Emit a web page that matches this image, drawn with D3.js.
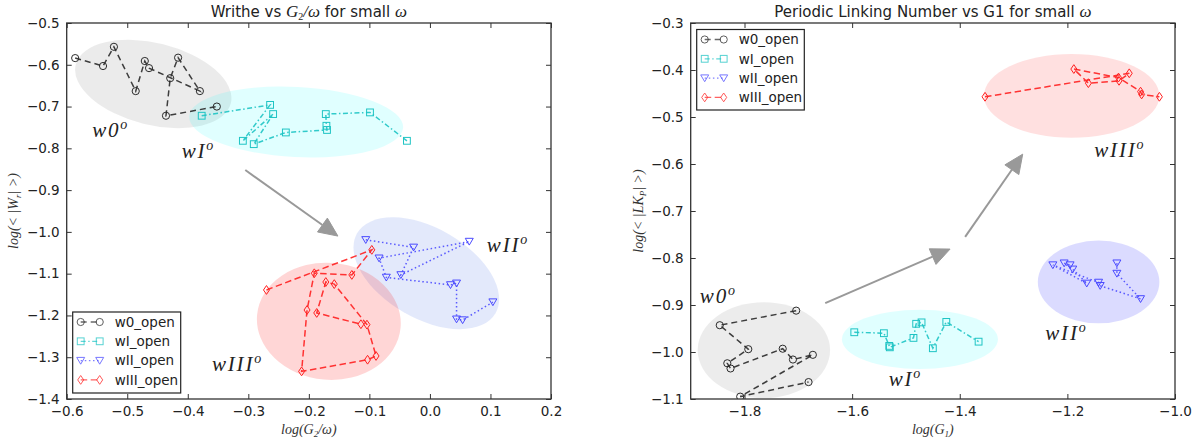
<!DOCTYPE html>
<html><head><meta charset="utf-8">
<script src="https://cdn.jsdelivr.net/npm/d3@7"></script>
<style>body{margin:0;background:#fff} svg{display:block}</style>
</head><body>
<svg id="chart" width="1198" height="444"></svg>
<script>
// ---------------- data ----------------
const seriesNames = ["w0_open", "wI_open", "wII_open", "wIII_open"];

const leftXTicks = [-0.6, -0.5, -0.4, -0.3, -0.2, -0.1, 0.0, 0.1, 0.2];
const leftYTicks = [-0.5, -0.6, -0.7, -0.8, -0.9, -1.0, -1.1, -1.2, -1.3, -1.4];
const rightXTicks = [-1.8, -1.6, -1.4, -1.2, -1.0];
const rightYTicks = [-0.3, -0.4, -0.5, -0.6, -0.7, -0.8, -0.9, -1.0, -1.1];

// Writhe panel (x = log(G2/w), y = log(<|Wr|>))
const leftW0 = [[-0.586,-0.584],[-0.540,-0.603],[-0.522,-0.557],[-0.486,-0.663],[-0.471,-0.591],[-0.464,-0.608],[-0.380,-0.663],[-0.416,-0.583],[-0.429,-0.632],[-0.436,-0.722],[-0.352,-0.700]];
const leftWI = [[-0.377,-0.722],[-0.264,-0.696],[-0.309,-0.782],[-0.259,-0.718],[-0.291,-0.790],[-0.238,-0.762],[-0.170,-0.756],[-0.171,-0.746],[-0.172,-0.718],[-0.099,-0.714],[-0.038,-0.782]];
const leftWII = [[-0.106,-1.019],[-0.027,-1.037],[-0.048,-1.103],[0.065,-1.023],[-0.084,-1.063],[-0.072,-1.109],[0.034,-1.127],[0.044,-1.123],[0.044,-1.209],[0.054,-1.211],[0.104,-1.168]];
const leftWIII = [[-0.270,-1.139],[-0.096,-1.043],[-0.129,-1.103],[-0.191,-1.099],[-0.203,-1.187],[-0.212,-1.334],[-0.103,-1.306],[-0.089,-1.297],[-0.104,-1.222],[-0.158,-1.125],[-0.172,-1.120],[-0.187,-1.194],[-0.114,-1.221]];

// Periodic linking panel (x = log(G1), y = log(<|LKp|>))
const rightW0 = [[-1.704,-0.912],[-1.846,-0.943],[-1.793,-0.994],[-1.832,-1.024],[-1.826,-1.035],[-1.729,-0.993],[-1.710,-1.016],[-1.673,-1.006],[-1.808,-1.095],[-1.681,-1.064]];
const rightWI = [[-1.596,-0.958],[-1.541,-0.960],[-1.531,-0.987],[-1.530,-0.990],[-1.486,-0.970],[-1.481,-0.940],[-1.471,-0.937],[-1.450,-0.992],[-1.425,-0.936],[-1.365,-0.978]];
const rightWII = [[-1.108,-0.811],[-1.108,-0.833],[-1.064,-0.887],[-1.139,-0.859],[-1.142,-0.852],[-1.227,-0.815],[-1.164,-0.854],[-1.190,-0.824],[-1.206,-0.811],[-1.195,-0.815]];
const rightWIII = [[-1.353,-0.457],[-1.085,-0.407],[-1.104,-0.423],[-1.161,-0.428],[-1.188,-0.398],[-1.105,-0.416],[-1.064,-0.446],[-1.062,-0.452],[-1.029,-0.457]];

// group highlight ellipses: [cx, cy, semi-axis (x units), semi-axis (y units), angle]
const leftGroups = [[-0.457,-0.646,0.132,0.098,14],[-0.221,-0.737,0.177,0.084,3],[-0.006,-1.099,0.132,0.108,30],[-0.167,-1.214,0.119,0.140,5]];
const rightGroups = [[-1.764,-0.996,0.123,0.102,0],[-1.474,-0.973,0.145,0.063,0],[-1.142,-0.851,0.113,0.088,0],[-1.192,-0.455,0.163,0.089,0]];
const groupLabels = ["w0", "wI", "wII", "wIII"];
const leftLabelPos = [[-0.558,-0.773],[-0.410,-0.823],[0.094,-1.048],[-0.360,-1.333]];
const rightLabelPos = [[-1.883,-0.896],[-1.532,-1.072],[-1.241,-0.974],[-1.150,-0.585]];
const leftArrows = [[[-0.305,-0.852],[-0.152,-1.010]]];
const rightArrows = [[[-1.650,-0.896],[-1.418,-0.781]],[[-1.390,-0.755],[-1.283,-0.579]]];

// ---------------- styles ----------------
const styles = [
  {color:"#2a2a2a", dash:"6,4", marker:"circle"},
  {color:"#1ec4c4", dash:"5,2.5,1.5,2.5", marker:"square"},
  {color:"#4a4aff", dash:"1.5,2.6", marker:"triangle"},
  {color:"#ff2020", dash:"6.5,3.5", marker:"diamond"}
];
const leftFills = [["#808080",0.16],["#00ffff",0.12],["#4169e1",0.15],["#ff0000",0.16]];
const rightFills = [["#808080",0.15],["#00ffff",0.12],["#0000ff",0.14],["#ff0000",0.12]];

const svg = d3.select("#chart");
const tickFont = "'DejaVu Sans', sans-serif";
const mathFont = "'Liberation Serif', 'DejaVu Serif', serif";

function drawMarker(g, kind, x, y, color) {
  if (kind === "circle") {
    g.append("circle").attr("cx", x).attr("cy", y).attr("r", 3.6)
      .attr("fill", "none").attr("stroke", color).attr("stroke-width", 1);
  } else if (kind === "square") {
    g.append("rect").attr("x", x - 3.4).attr("y", y - 3.4).attr("width", 6.8).attr("height", 6.8)
      .attr("fill", "none").attr("stroke", color).attr("stroke-width", 1);
  } else if (kind === "triangle") {
    g.append("path").attr("d", `M${x-4},${y-3.2}L${x+4},${y-3.2}L${x},${y+3.6}Z`)
      .attr("fill", "none").attr("stroke", color).attr("stroke-width", 1);
  } else {
    g.append("path").attr("d", `M${x},${y-4.4}L${x+3},${y}L${x},${y+4.4}L${x-3},${y}Z`)
      .attr("fill", "none").attr("stroke", color).attr("stroke-width", 1);
  }
}

function drawPanel(p) {
  const x = d3.scaleLinear().domain(p.xDomain).range([p.left, p.right]);
  const y = d3.scaleLinear().domain(p.yDomain).range([p.bottom, p.top]);
  const g = svg.append("g");
  const clipId = "clip" + p.id;
  svg.append("clipPath").attr("id", clipId).append("rect")
    .attr("x", p.left).attr("y", p.top).attr("width", p.right - p.left).attr("height", p.bottom - p.top);
  const plot = g.append("g").attr("clip-path", `url(#${clipId})`);

  // ellipses
  p.groups.forEach((e, i) => {
    const cx = x(e[0]), cy = y(e[1]);
    const rx = Math.abs(x(e[2]) - x(0)), ry = Math.abs(y(e[3]) - y(0));
    plot.append("ellipse").attr("cx", cx).attr("cy", cy).attr("rx", rx).attr("ry", ry)
      .attr("transform", `rotate(${e[4]},${cx},${cy})`)
      .attr("fill", p.fills[i][0]).attr("fill-opacity", p.fills[i][1]).attr("stroke", "none");
  });

  // arrows
  p.arrows.forEach(a => {
    const x1 = x(a[0][0]), y1 = y(a[0][1]), x2 = x(a[1][0]), y2 = y(a[1][1]);
    const ang = Math.atan2(y2 - y1, x2 - x1);
    const hl = 19, hw = 8.5;
    const bx = x2 - hl * Math.cos(ang), by = y2 - hl * Math.sin(ang);
    plot.append("line").attr("x1", x1).attr("y1", y1).attr("x2", bx).attr("y2", by)
      .attr("stroke", "#999").attr("stroke-width", 2);
    const px = -Math.sin(ang), py = Math.cos(ang);
    plot.append("path").attr("d", `M${x2},${y2}L${bx + hw*px},${by + hw*py}L${bx - hw*px},${by - hw*py}Z`)
      .attr("fill", "#999").attr("stroke", "#999").attr("stroke-width", 1);
  });

  // series
  p.series.forEach((data, i) => {
    const st = styles[i];
    const line = d3.line().x(d => x(d[0])).y(d => y(d[1]));
    plot.append("path").attr("d", line(data)).attr("fill", "none")
      .attr("stroke", st.color).attr("stroke-width", 1.5).attr("stroke-dasharray", st.dash)
      .attr("stroke-opacity", 0.9);
    const mg = plot.append("g");
    data.forEach(d => drawMarker(mg, st.marker, x(d[0]), y(d[1]), st.color));
  });

  // group labels
  p.labelPos.forEach((lp, i) => {
    const t = plot.append("text").attr("x", x(lp[0])).attr("y", y(lp[1]))
      .attr("font-family", mathFont).attr("font-style", "italic").attr("font-size", 21)
      .attr("letter-spacing", 1.8).attr("fill", "#222");
    t.append("tspan").text(groupLabels[i]);
    t.append("tspan").attr("font-size", 14).attr("dy", -8).text("o");
  });

  // axes with inward ticks on all sides
  const fmt = d3.format(".1f");
  const ax = g.append("g").attr("transform", `translate(0,${p.bottom})`)
    .call(d3.axisBottom(x).tickValues(p.xTicks).tickFormat(fmt).tickSize(-5).tickPadding(7));
  const ay = g.append("g").attr("transform", `translate(${p.left},0)`)
    .call(d3.axisLeft(y).tickValues(p.yTicks).tickFormat(fmt).tickSize(-5).tickPadding(7));
  const at = g.append("g").attr("transform", `translate(0,${p.top})`)
    .call(d3.axisTop(x).tickValues(p.xTicks).tickFormat("").tickSize(-5));
  const ar = g.append("g").attr("transform", `translate(${p.right},0)`)
    .call(d3.axisRight(y).tickValues(p.yTicks).tickFormat("").tickSize(-5));
  [ax, ay, at, ar].forEach(a => {
    a.select(".domain").remove();
    a.selectAll(".tick line").attr("stroke", "#333").attr("stroke-width", 1);
    a.selectAll("text").attr("font-family", tickFont).attr("font-size", 13.5).attr("fill", "#222");
  });
  g.append("rect").attr("x", p.left).attr("y", p.top).attr("width", p.right - p.left).attr("height", p.bottom - p.top)
    .attr("fill", "none").attr("stroke", "#333").attr("stroke-width", 1.3);

  // legend
  const lg = g.append("g");
  lg.append("rect").attr("x", p.legend.x).attr("y", p.legend.y).attr("width", p.legend.w).attr("height", p.legend.h)
    .attr("fill", "#fff").attr("stroke", "#222").attr("stroke-width", 1.2);
  seriesNames.forEach((nm, i) => {
    const st = styles[i];
    const yy = p.legend.y + 10 + i * 19.3;
    const xa = p.legend.x + 8, xb = p.legend.x + 27;
    lg.append("line").attr("x1", xa).attr("y1", yy).attr("x2", xb).attr("y2", yy)
      .attr("stroke", st.color).attr("stroke-width", 1.3).attr("stroke-dasharray", st.dash).attr("stroke-opacity", 0.7);
    const mg = lg.append("g").attr("opacity", 0.75);
    drawMarker(mg, st.marker, xa, yy, st.color);
    drawMarker(mg, st.marker, xb, yy, st.color);
    lg.append("text").attr("x", p.legend.x + 42).attr("y", yy).attr("dy", "0.36em")
      .attr("font-family", tickFont).attr("font-size", 13.5).attr("fill", "#222").text(nm);
  });

  // title
  const cx = (p.left + p.right) / 2;
  const tt = g.append("text").attr("x", cx).attr("y", 17).attr("text-anchor", "middle")
    .attr("font-family", tickFont).attr("font-size", 15).attr("fill", "#222");
  p.title(tt);

  // x label
  const xl = g.append("text").attr("x", cx).attr("y", 434).attr("text-anchor", "middle")
    .attr("font-family", mathFont).attr("font-style", "italic").attr("font-size", 14).attr("fill", "#333");
  p.xlabel(xl);
  // y label
  const yl = g.append("text").attr("transform", `translate(${p.ylabelX},${(p.top + p.bottom) / 2}) rotate(-90)`)
    .attr("text-anchor", "middle")
    .attr("font-family", mathFont).attr("font-style", "italic").attr("font-size", 14).attr("fill", "#333");
  p.ylabel(yl);
}

drawPanel({
  id: "L", left: 66.7, right: 551, top: 23, bottom: 399,
  xDomain: [-0.6, 0.2], yDomain: [-1.4, -0.5],
  xTicks: leftXTicks, yTicks: leftYTicks,
  series: [leftW0, leftWI, leftWII, leftWIII],
  groups: leftGroups, fills: leftFills, labelPos: leftLabelPos, arrows: leftArrows,
  legend: {x: 72.7, y: 312, w: 108, h: 81},
  ylabelX: 18,
  title: t => {
    t.append("tspan").text("Writhe vs ");
    t.append("tspan").attr("font-family", mathFont).attr("font-style", "italic").attr("font-size", 17).text("G");
    t.append("tspan").attr("font-family", mathFont).attr("font-size", 10).attr("dy", 3).text("2");
    t.append("tspan").attr("font-family", mathFont).attr("font-style", "italic").attr("font-size", 17).attr("dy", -3).text("/ω");
    t.append("tspan").text(" for small ");
    t.append("tspan").attr("font-family", mathFont).attr("font-style", "italic").attr("font-size", 17).text("ω");
  },
  xlabel: t => {
    t.append("tspan").text("log(G");
    t.append("tspan").attr("font-size", 9).attr("dy", 3).text("2");
    t.append("tspan").attr("dy", -3).text("/ω)");
  },
  ylabel: t => {
    t.append("tspan").text("log(< |W");
    t.append("tspan").attr("font-size", 9).attr("dy", 3).text("r");
    t.append("tspan").attr("dy", -3).text("| >)");
  }
});

drawPanel({
  id: "R", left: 690.7, right: 1175, top: 23, bottom: 399,
  xDomain: [-1.9, -1.0], yDomain: [-1.1, -0.3],
  xTicks: rightXTicks, yTicks: rightYTicks,
  series: [rightW0, rightWI, rightWII, rightWIII],
  groups: rightGroups, fills: rightFills, labelPos: rightLabelPos, arrows: rightArrows,
  legend: {x: 696.7, y: 29.5, w: 107.6, h: 80.5},
  ylabelX: 643,
  title: t => {
    t.append("tspan").text("Periodic Linking Number vs G1 for small ");
    t.append("tspan").attr("font-family", mathFont).attr("font-style", "italic").attr("font-size", 17).text("ω");
  },
  xlabel: t => {
    t.append("tspan").text("log(G");
    t.append("tspan").attr("font-size", 9).attr("dy", 3).text("1");
    t.append("tspan").attr("dy", -3).text(")");
  },
  ylabel: t => {
    t.append("tspan").text("log(< |LK");
    t.append("tspan").attr("font-size", 9).attr("dy", 3).text("P");
    t.append("tspan").attr("dy", -3).text("| >)");
  }
});
</script>
</body></html>
